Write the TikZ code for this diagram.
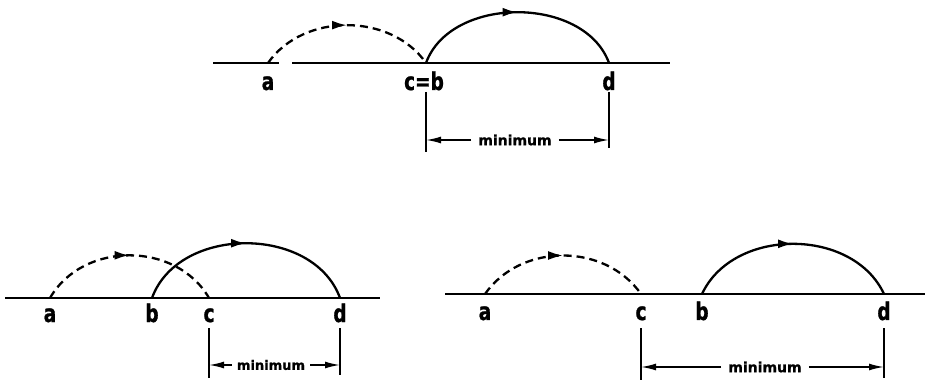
\documentclass[tikz,border=0pt]{standalone}
\usepackage{fontspec}
\usepackage{graphicx}
\setmainfont{DejaVu Sans}
\newfontfamily\lblfont[FakeBold=1.2]{DejaVu Sans Bold}
\usetikzlibrary{arrows.meta,decorations.markings}
\newcommand\lbltext[1]{\scalebox{1}[1.32]{\fontsize{18.5}{18}\lblfont #1}}
\tikzset{
  baseline/.style={line width=2.4pt},
  jumpmark/.style={postaction={solid, decorate, decoration={markings,
      mark=at position #1 with {\arrow{Latex[length=15pt,width=9pt]}}}}},
  dashjump/.style={line width=2.3pt, dash pattern=on 8pt off 5pt, jumpmark=0.5},
  solidjump/.style={line width=2.3pt, jumpmark=0.5},
  lbl/.style={anchor=base, inner sep=0pt},
  tick/.style={line width=2pt},
  dimtext/.style={inner xsep=7pt, inner ysep=0pt, font=\fontsize{14}{14}\lblfont},
  dimarrow/.style={line width=1.7pt, -{Latex[length=15pt,width=7pt]}},
}
\begin{document}
\begin{tikzpicture}[x=1pt,y=1pt]
\useasboundingbox (0,0) rectangle (925,380);
% ---------- top diagram ----------
\coordinate (tl0) at (213,317);
\coordinate (tl1) at (279,317);
\coordinate (tl2) at (292,317);
\coordinate (tl3) at (670,317);
\coordinate (ta) at (268,317);
\coordinate (tcb) at (426,317);
\coordinate (td) at (609,317);
\draw[baseline] (tl0) -- (tl1);
\draw[baseline] (tl2) -- (tl3);
\draw[dashjump] (ta) to[out=55,in=125,looseness=1.0] (tcb);
\draw[solidjump] (tcb) to[out=70,in=110,looseness=1.01] (td);
\node[lbl] (lta) at (268,290) {\lbltext{a}};
\node[lbl] (ltcb) at (424,290) {\lbltext{c=b}};
\node[lbl] (ltd) at (609,290) {\lbltext{d}};
\coordinate (tt1a) at (426,288);
\coordinate (tt1b) at (426,228);
\coordinate (tt2a) at (609,288);
\coordinate (tt2b) at (609,232);
\draw[tick] (tt1a) -- (tt1b);
\draw[tick] (tt2a) -- (tt2b);
\coordinate (tk1) at (426,240);
\coordinate (tk2) at (609,240);
\node[dimtext] (tm) at (515,240) {minimum};
\draw[dimarrow] (tm) -- (tk1);
\draw[dimarrow] (tm) -- (tk2);
% ---------- bottom left ----------
\coordinate (ll0) at (5,82);
\coordinate (ll1) at (380,82);
\coordinate (la) at (50,82);
\coordinate (lb) at (152,82);
\coordinate (lc) at (209,82);
\coordinate (ld) at (340,82);
\draw[baseline] (ll0) -- (ll1);
\draw[dashjump] (la) to[out=60,in=120,looseness=1.06] (lc);
\draw[solidjump] (lb) to[out=70,in=110,looseness=1.06] (ld);
\node[lbl] (lla) at (50,58) {\lbltext{a}};
\node[lbl] (llb) at (152,58) {\lbltext{b}};
\node[lbl] (llc) at (209,58) {\lbltext{c}};
\node[lbl] (lld) at (340,58) {\lbltext{d}};
\coordinate (lt1a) at (209,52);
\coordinate (lt1b) at (209,2);
\coordinate (lt2a) at (340,52);
\coordinate (lt2b) at (340,5);
\draw[tick] (lt1a) -- (lt1b);
\draw[tick] (lt2a) -- (lt2b);
\coordinate (lk1) at (209,15);
\coordinate (lk2) at (340,15);
\node[dimtext, font=\fontsize{13}{13}\lblfont, inner xsep=5pt] (lm) at (271,15) {minimum};
\draw[dimarrow] (lm) -- (lk1);
\draw[dimarrow] (lm) -- (lk2);
% ---------- bottom right ----------
\coordinate (rl0) at (445,86);
\coordinate (rl1) at (925,86);
\coordinate (ra) at (485,86);
\coordinate (rc) at (641,86);
\coordinate (rb) at (702,86);
\coordinate (rd) at (884,86);
\draw[baseline] (rl0) -- (rl1);
\draw[dashjump] (ra) to[out=55,in=125,looseness=1.03] (rc);
\draw[solidjump] (rb) to[out=65,in=115,looseness=1.04] (rd);
\node[lbl] (lra) at (485,60) {\lbltext{a}};
\node[lbl] (lrc) at (641,60) {\lbltext{c}};
\node[lbl] (lrb) at (702,60) {\lbltext{b}};
\node[lbl] (lrd) at (884,60) {\lbltext{d}};
\coordinate (rt1a) at (641,52);
\coordinate (rt1b) at (641,0);
\coordinate (rt2a) at (884,52);
\coordinate (rt2b) at (884,2);
\draw[tick] (rt1a) -- (rt1b);
\draw[tick] (rt2a) -- (rt2b);
\coordinate (rk1) at (641,13);
\coordinate (rk2) at (884,13);
\node[dimtext] (rm) at (765,13) {minimum};
\draw[dimarrow] (rm) -- (rk1);
\draw[dimarrow] (rm) -- (rk2);
\end{tikzpicture}
\end{document}
